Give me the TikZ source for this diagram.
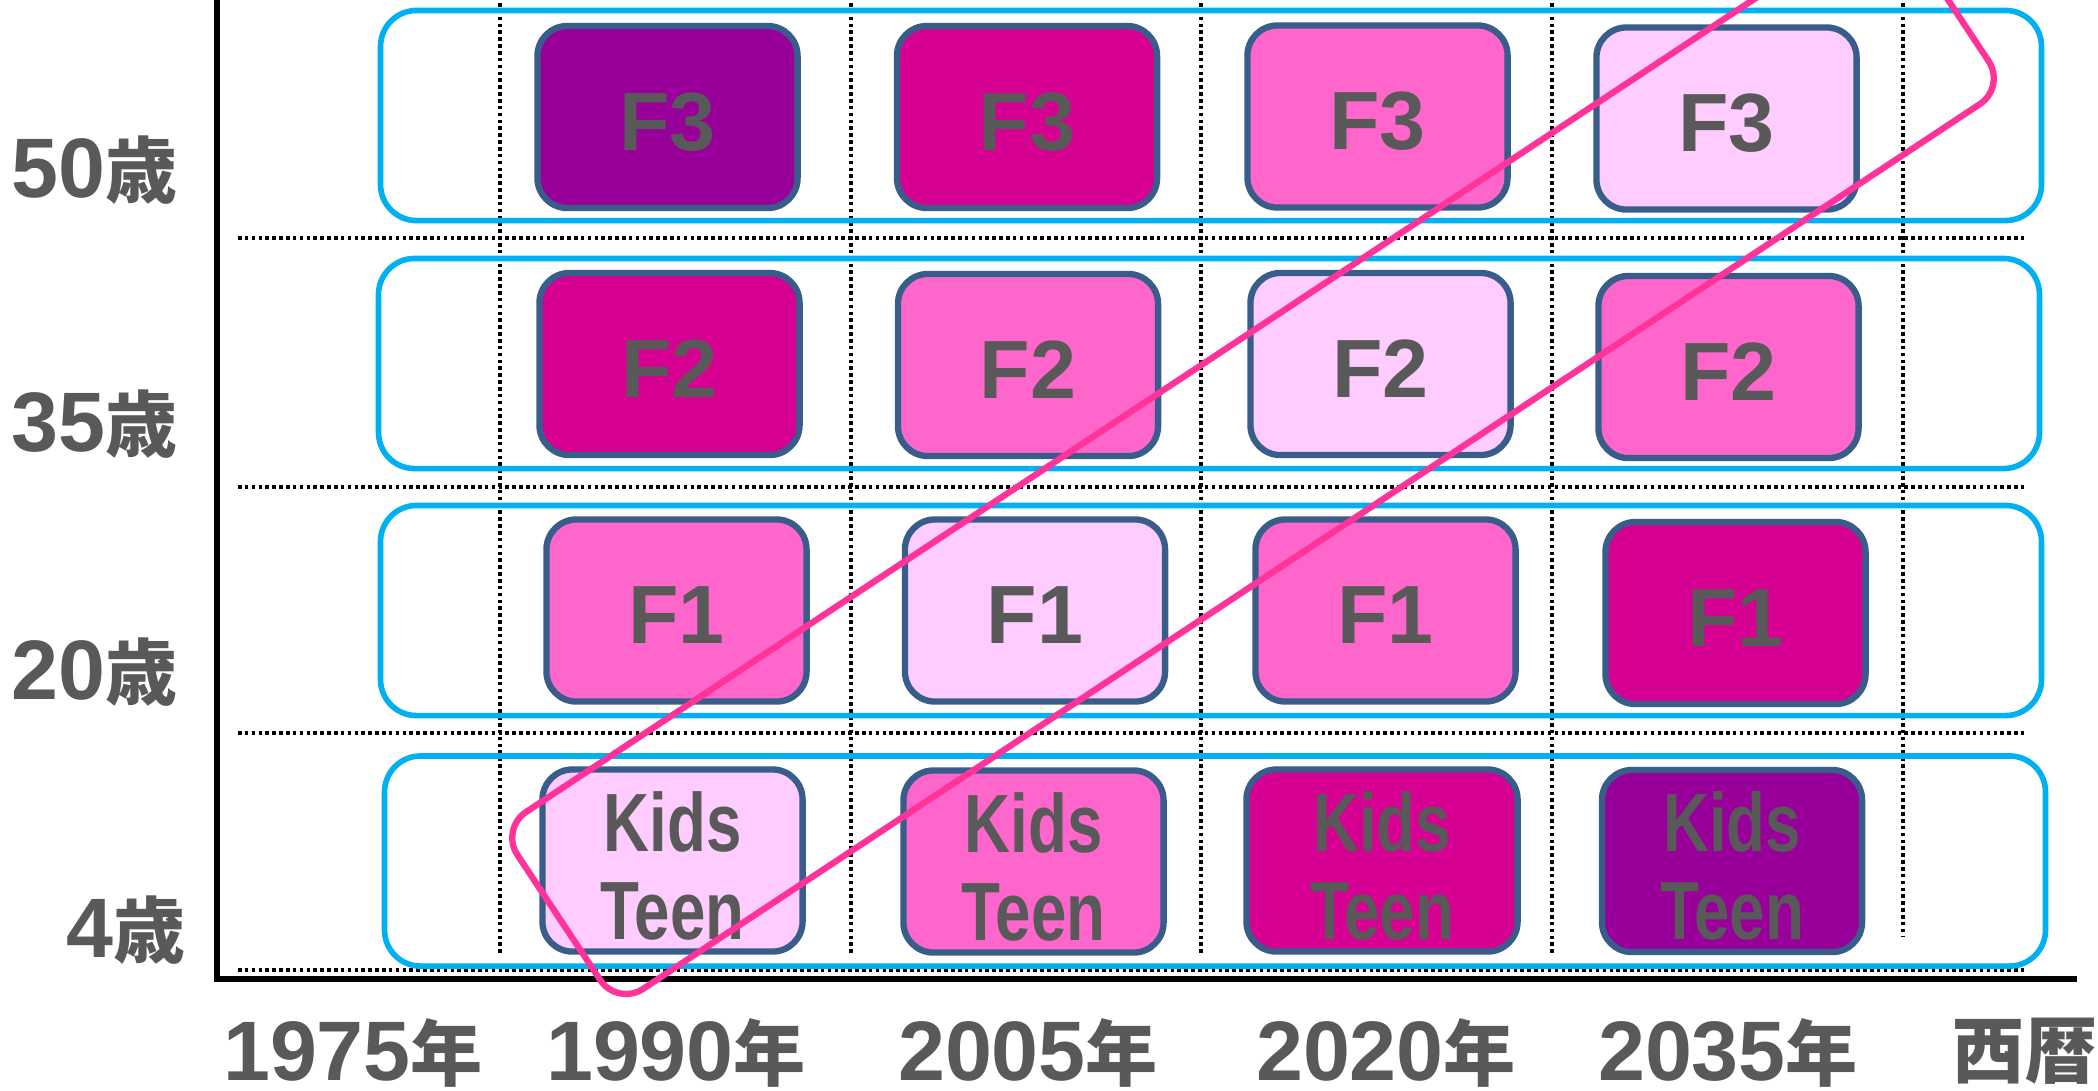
\documentclass[tikz,border=0pt]{standalone}
\usepackage{fontspec}
\setmainfont{Liberation Sans}
\newfontfamily\cjk{Noto Sans CJK JP}
\usepackage{graphicx}
\definecolor{rowblue}{HTML}{00B0F0}
\definecolor{celledge}{HTML}{385D8A}
\definecolor{txtgray}{HTML}{595959}
\definecolor{cpurple}{HTML}{990099}
\definecolor{cmagenta}{HTML}{D60093}
\definecolor{cpink}{HTML}{FF66CC}
\definecolor{clight}{HTML}{FFCCFF}
\definecolor{bandpink}{HTML}{FF3399}
\newcommand{\kj}[1]{{\cjk\bfseries\fontsize{20.5}{24}\selectfont #1}}
\newcommand{\dn}[1]{\raisebox{-0.05cm}[\height][\depth]{#1}}
\newcommand{\nar}[1]{\dn{\scalebox{0.77}[1]{#1}}}
\begin{document}
\begin{tikzpicture}[x=0.01cm,y=-0.01cm,
  rowbox/.style={draw=rowblue,line width=1.6pt,rounded corners=0.36cm,inner sep=0,minimum width=16.6cm,minimum height=2.1cm},
  cell/.style={draw=celledge,line width=1.8pt,rounded corners=0.3cm,inner sep=0,minimum width=2.6cm,minimum height=1.82cm,text=txtgray,font=\fontsize{23.5}{25}\selectfont\bfseries,align=center},
  lbl/.style={text=txtgray,font=\fontsize{24}{28}\selectfont\bfseries,inner sep=0},
  gridln/.style={line width=1pt,dash pattern=on 1pt off 0.95pt},
  axisline/.style={line width=1.6pt},
  bandbox/.style={draw=bandpink,line width=1.8pt,rounded corners=0.31cm,inner sep=0,minimum width=16.64cm,minimum height=2.12cm,rotate=33.5}]
\useasboundingbox (0,0) rectangle (2098,1090);
\clip (0,0) rectangle (2098,1090);
% grid coordinates
\foreach \y [count=\i] in {238,487,733,970}{
  \coordinate (h\i a) at (238,\y);
  \coordinate (h\i b) at (2027,\y);
  \draw[gridln] (h\i a) -- (h\i b);
}
\foreach \x [count=\i] in {500,851,1201,1552}{
  \coordinate (v\i a) at (\x,3);
  \coordinate (v\i b) at (\x,953);
  \draw[gridln] (v\i a) -- (v\i b);
}
\coordinate (v5a) at (1903,3);
\coordinate (v5b) at (1903,937);
\draw[gridln] (v5a) -- (v5b);
% row boxes
\node[rowbox] (row1) at (1211,115.5) {};
\node[rowbox] (row2) at (1209,363.5) {};
\node[rowbox] (row3) at (1211,610.5) {};
\node[rowbox] (row4) at (1215,861) {};
% cells row 1
\node[cell,fill=cpurple]  (a1) at (667.5,117) {\dn{F3}};
\node[cell,fill=cmagenta] (b1) at (1027,117) {\dn{F3}};
\node[cell,fill=cpink]    (c1) at (1377.5,116.5) {\dn{F3}};
\node[cell,fill=clight]   (d1) at (1726.5,118.5) {\dn{F3}};
% row 2
\node[cell,fill=cmagenta] (a2) at (669.5,364) {\dn{F2}};
\node[cell,fill=cpink]    (b2) at (1028,365) {\dn{F2}};
\node[cell,fill=clight]   (c2) at (1380.5,364) {\dn{F2}};
\node[cell,fill=cpink]    (d2) at (1728.5,367) {\dn{F2}};
% row 3
\node[cell,fill=cpink]    (a3) at (676.5,610.5) {\dn{F1}};
\node[cell,fill=clight]   (b3) at (1035,610.5) {\dn{F1}};
\node[cell,fill=cpink]    (c3) at (1385.5,610.5) {\dn{F1}};
\node[cell,fill=cmagenta] (d3) at (1735.5,613) {\dn{F1}};
% row 4
\node[cell,fill=clight]   (a4) at (672.5,860.5) {\nar{Kids}\\\nar{Teen}};
\node[cell,fill=cpink]    (b4) at (1033.5,861.5) {\nar{Kids}\\\nar{Teen}};
\node[cell,fill=cmagenta,minimum width=2.71cm] (c4) at (1382,860.5) {\nar{Kids}\\\nar{Teen}};
\node[cell,fill=cpurple]  (d4) at (1732,861) {\nar{Kids}\\\nar{Teen}};
% axes
\coordinate (ytop) at (217,0);
\coordinate (orig) at (217,979);
\coordinate (xend) at (2077,979);
\draw[axisline] (ytop) -- (orig) -- (xend);
% y labels
\node[lbl,anchor=base east] (y50) at (178,197) {50\kj{歳}};
\node[lbl,anchor=base east] (y35) at (178,451) {35\kj{歳}};
\node[lbl,anchor=base east] (y20) at (178,699) {20\kj{歳}};
\node[lbl,anchor=base east] (y4)  at (186,957) {4\kj{歳}};
% x labels
\node[lbl,anchor=base] (x1975) at (353,1080) {1975\kj{年}};
\node[lbl,anchor=base] (x1990) at (676,1080) {1990\kj{年}};
\node[lbl,anchor=base] (x2005) at (1028,1080) {2005\kj{年}};
\node[lbl,anchor=base] (x2020) at (1386,1080) {2020\kj{年}};
\node[lbl,anchor=base] (x2035) at (1728,1080) {2035\kj{年}};
\node[lbl,anchor=base] (xera)  at (2025,1077) {\kj{西暦}};
% pink band
\node[bandbox] (band) at (1253,458) {};
\end{tikzpicture}
\end{document}
